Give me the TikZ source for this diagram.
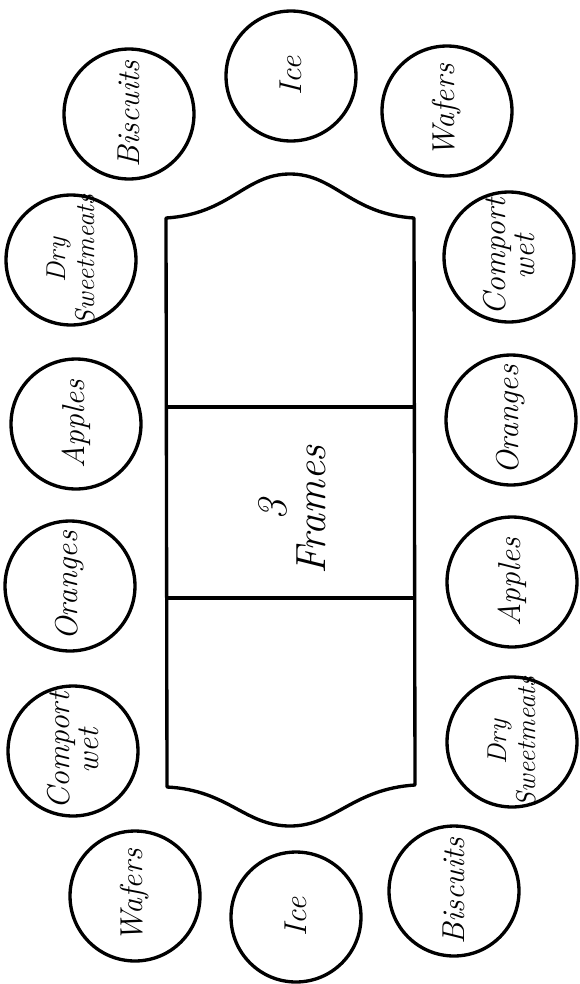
\documentclass[tikz,border=0pt]{standalone}
\usepackage{tikz}

\begin{document}
\begin{tikzpicture}[
    x=0.02cm, y=-0.02cm,
    dish/.style={draw, circle, line width=1.9pt, minimum size=2.6cm, inner sep=0pt},
    tag/.style={rotate=90, align=center, inner sep=0pt, font=\itshape\fontsize{18}{17}\selectfont},
    smalltag/.style={tag, font=\itshape\fontsize{15.5}{16}\selectfont},
    board/.style={draw, line width=1.9pt, line join=round}
]
    \useasboundingbox (0,0) rectangle (579,984);

    \node[dish] (biscuitsA) at (129,114) {};
    \node[dish] (iceA) at (291,76) {};
    \node[dish] (wafersA) at (447,111) {};
    \node[dish] (dryA) at (71,260) {};
    \node[dish] (comportA) at (509,257) {};
    \node[dish] (applesA) at (76,424) {};
    \node[dish] (orangesA) at (511,420) {};
    \node[dish] (orangesB) at (70,586) {};
    \node[dish] (applesB) at (512,582) {};
    \node[dish] (comportB) at (73,751) {};
    \node[dish] (dryB) at (512,742) {};
    \node[dish] (wafersB) at (135,896) {};
    \node[dish] (iceB) at (296,917) {};
    \node[dish] (biscuitsB) at (454,891) {};

    \node[tag] at (biscuitsA) {Biscuits};
    \node[tag] at (iceA) {Ice};
    \node[tag] at (wafersA) {Wafers};
    \node[smalltag] at (dryA) {Dry\\Sweetmeats};
    \node[tag] at (comportA) {Comport\\wet};
    \node[tag] at (applesA) {Apples};
    \node[tag] at (orangesA) {Oranges};
    \node[tag] at (orangesB) {Oranges};
    \node[tag] at (applesB) {Apples};
    \node[tag] at (comportB) {Comport\\wet};
    \node[smalltag] at (dryB) {Dry\\Sweetmeats};
    \node[tag] at (wafersB) {Wafers};
    \node[tag] at (iceB) {Ice};
    \node[tag] at (biscuitsB) {Biscuits};

    \coordinate (tl) at (166,218);
    \coordinate (tr) at (414,218);
    \coordinate (br) at (415,785);
    \coordinate (bl) at (167,787);
    \draw[board] (tl) .. controls (230,214) and (245,174) .. (290,174)
        .. controls (335,174) and (350,214) .. (tr) -- (br)
        .. controls (352,789) and (335,826) .. (290,826)
        .. controls (245,826) and (228,790) .. (bl) -- cycle;
    \draw[board] (166,407) -- (414,407);
    \draw[board] (167,598) -- (415,598);

    \node[tag, font=\itshape\fontsize{24}{22}\selectfont] (frames) at (292,510) {3\\Frames};
\end{tikzpicture}
\end{document}
